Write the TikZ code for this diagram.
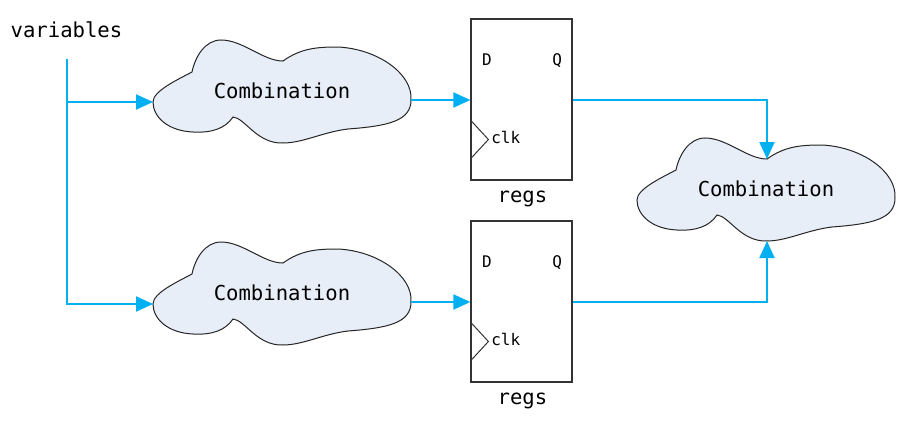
\documentclass[tikz,border=0pt]{standalone}
\usepackage{fontspec}
\setmonofont{DejaVu Sans Mono}
\usetikzlibrary{arrows.meta}
\definecolor{wireblue}{RGB}{0,176,240}
\definecolor{blobfill}{RGB}{231,238,248}

\begin{document}
\begin{tikzpicture}[x=0.5pt, y=0.5pt,
  wire/.style={draw=wireblue, line width=1pt, -{Triangle[length=8.5pt, width=7.5pt]}},
  blobline/.style={draw=black!85, fill=blobfill, line width=0.5pt},
  combtxt/.style={font=\ttfamily\fontsize{10.3pt}{12pt}\selectfont, inner sep=0pt, anchor=base},
  regbox/.style={draw=black!80, line width=0.6pt, minimum width=50.5pt, minimum height=80.5pt, inner sep=0pt},
  pinlbl/.style={font=\ttfamily\fontsize{8pt}{9pt}\selectfont, inner sep=0pt, anchor=base},
  reglbl/.style={font=\ttfamily\fontsize{10.3pt}{12pt}\selectfont, inner sep=0pt, anchor=base},
  blob/.pic={
    \draw[blobline] (0,-63)
      .. controls (0,-52) and (24,-41) .. (39,-33)
      .. controls (42,-18) and (52,-1) .. (68,-1)
      .. controls (90,-1) and (110,-22) .. (130,-22)
      .. controls (148,-9) and (165,-8) .. (185,-8)
      .. controls (225,-10) and (260,-35) .. (258,-61)
      .. controls (258,-82) and (235,-87) .. (195,-90)
      .. controls (170,-93) and (150,-104) .. (130,-104)
      .. controls (104,-105) and (92,-79) .. (80,-78)
      .. controls (72,-90) and (58,-94) .. (40,-93)
      .. controls (15,-92) and (0,-78) .. (0,-63) -- cycle;
    \node[combtxt] (-txt) at (129,-59) {#1};
    \coordinate (-in)  at (0,-63);
    \coordinate (-out) at (258,-61);
    \coordinate (-top) at (130,-22);
    \coordinate (-bot) at (130,-104);
  }
]
\useasboundingbox (0,0) rectangle (923,-423);

%% Input bus
\node[combtxt] (vars) at (66.5,-37.5) {variables};
\coordinate (busTop) at (67,-59);

%% Combination clouds
\pic (cl1) at (153,-39)  {blob=Combination};
\pic (cl2) at (153,-241) {blob=Combination};
\pic (cl3) at (637,-137) {blob=Combination};

%% Registers
\foreach \r/\y in {reg1/-99.5, reg2/-301.5} {
  \node[regbox] (\r) at (521.5,\y) {};
  \node[pinlbl] (\r D) at ([shift={(16.5,-47)}]\r.north west) {D};
  \node[pinlbl] (\r Q) at ([shift={(-15.5,-47)}]\r.north east) {Q};
  \draw[black!80, line width=0.5pt] ([shift={(0,-20.5)}]\r.west) -- ++(18,-19.5) -- ++(-18,-19.5);
  \node[pinlbl, anchor=base west] (\r clk) at ([shift={(20.5,-43.5)}]\r.west) {clk};
  \node[reglbl] (\r name) at ([shift={(1,-22)}]\r.south) {regs};
}

%% Wires
\draw[wire] (busTop) |- (cl2-in);
\draw[wire] (cl1-in -| busTop) -- (cl1-in);
\draw[wire] (cl1-out) -- (cl1-out -| reg1.west);
\draw[wire] (cl2-out) -- (cl2-out -| reg2.west);
\draw[wire] (reg1.east) -| (cl3-top);
\draw[wire] (reg2.east) -| (cl3-bot);
\end{tikzpicture}
\end{document}
